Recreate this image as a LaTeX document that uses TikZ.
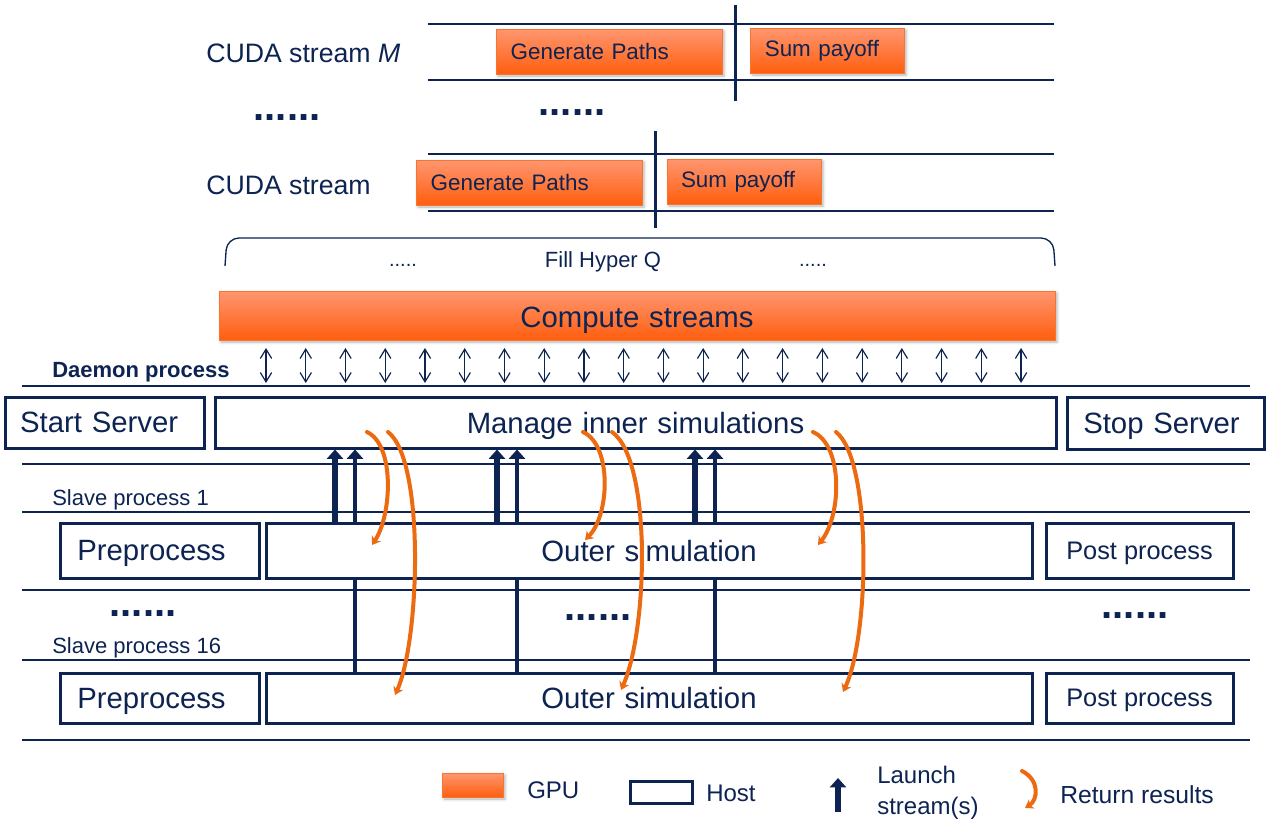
\documentclass[tikz,border=0pt]{standalone}
\usepackage{fontspec}
\setmainfont{Liberation Sans}
\usetikzlibrary{arrows.meta}
\usetikzlibrary{shadows.blur}

\definecolor{navy}{RGB}{13,35,82}
\definecolor{gpuTop}{RGB}{255,150,112}
\definecolor{gpuBot}{RGB}{255,94,14}
\definecolor{gpuLine}{RGB}{246,118,48}
\definecolor{retOrange}{RGB}{236,106,16}

\begin{document}
\begin{tikzpicture}[x=0.75pt,y=0.75pt,yscale=-1,xscale=1,
  every node/.style={text=navy},
  fsz/.style={font=\fontsize{#1}{#1}\selectfont},
  sz/.style 2 args={minimum width=#1*0.75pt,minimum height=#2*0.75pt},
  gpu/.style={draw=gpuLine,line width=0.75pt,top color=gpuTop,bottom color=gpuBot,inner sep=0pt,
    blur shadow={shadow xshift=1.5pt,shadow yshift=-1.5pt,shadow blur steps=4,shadow opacity=30}},
  host/.style={draw=navy,line width=2.25pt,fill=white,inner sep=0pt,text depth=0pt},
  rule/.style={draw=navy,line width=1.2pt},
  hq/.style={draw=navy,line width=0.9pt,{Straight Barb[length=7pt,width=8.5pt]}-{Straight Barb[length=7pt,width=8.5pt]}},
  launch/.style={draw=navy,line width=#1,-{Triangle[length=7pt,width=12pt]}},
  ret/.style={draw=retOrange,line width=3pt,line cap=round,-{Stealth[length=6pt,width=8pt]}},
  dots/.style={font=\fontsize{30}{30}\selectfont\bfseries,inner sep=0pt},
]
\useasboundingbox (0,0) rectangle (1266,825);

%Straight Lines: CUDA stream M
\draw [rule] (428,24) -- (1054,24);
\draw [rule] (428,80) -- (1054,80);
\draw [rule,line width=2.25pt] (735,5) -- (735,101);
%Straight Lines: CUDA stream
\draw [rule] (428,154) -- (1054,154);
\draw [rule] (428,211) -- (1054,211);
\draw [rule,line width=2.25pt] (655,131) -- (655,228);

%Shape: GPU kernels
\draw (609,51.5) node (genM) [gpu,sz={226}{45},align=left,text width=147.5pt,inner xsep=11pt,fsz=16.8] {Generate Paths};
\draw (827.5,50.5) node (sumM) [gpu,sz={153}{45},align=left,text width=94pt,inner xsep=10.5pt,fsz=16.8] {Sum payoff};
\draw (529,182.5) node (gen1) [gpu,sz={226}{45},align=left,text width=147.5pt,inner xsep=11pt,fsz=16.8] {Generate Paths};
\draw (744,181.5) node (sum1) [gpu,sz={154}{45},align=left,text width=94.5pt,inner xsep=10.5pt,fsz=16.8] {Sum payoff};

% Text Node
\draw (206,53) node (lblM) [anchor=west,inner sep=0pt,fsz=20] {CUDA stream \textit{M}};
% Text Node
\draw (206,185) node (lbl1) [anchor=west,inner sep=0pt,fsz=20] {CUDA stream};
% Text Node
\draw (287,118) node (dotsA) [dots] {......};
\draw (572,113) node (dotsB) [dots] {......};

%Curve Lines: Hyper Q brace
\draw [navy,line width=1pt,rounded corners=9] (225,266) -- (227,238) -- (1053,238) -- (1055,266);
% Text Node
\draw (603,262) node (fill) [fsz=16.5] {Fill Hyper Q};
\draw (403,265) node (dotsC) [fsz=15] {.....};
\draw (813,265) node (dotsD) [fsz=15] {.....};

%Shape: Compute streams
\draw (637,315.5) node (cs) [gpu,sz={836}{49},fsz=22,text depth=0pt] {\raisebox{-2pt}{Compute\,\,streams}};

%Straight Lines: Hyper Q connections
\foreach \i in {0,...,19}
  \draw [hq] (266+39.74*\i,348) -- (266+39.74*\i,383);

% Text Node
\draw (52,372) node (daemon) [anchor=west,inner sep=0pt,font=\fontsize{16.5}{16.5}\selectfont\bfseries] {Daemon process};

%Straight Lines: process rules
\foreach \y in {386,464,512,590,660,740}
  \draw [rule] (22,\y) -- (1250,\y);

%Shape: Daemon process
\draw (104.5,422.5) node (start) [host,sz={199}{51},fsz=22] {Start\,\,Server\hspace*{8pt}};
\draw (635.5,422.5) node (manage) [host,sz={841}{51},fsz=22] {Manage\,\,inner\,\,simulations};
\draw (1165.5,423) node (stop) [host,sz={197}{52},fsz=22] {Stop\,\,Server\hspace*{6pt}};

% Text Node
\draw (52,500) node (slave1) [anchor=west,inner sep=0pt,fsz=16.5] {Slave process 1};
\draw (52,648) node (slave16) [anchor=west,inner sep=0pt,fsz=16.5] {Slave process 16};

%Shape: Slave process 1
\draw (159.5,550.5) node (pre1) [host,sz={199}{55},fsz=22] {Preprocess\hspace*{12pt}};
\draw (649,550.5) node (out1) [host,sz={766}{55},fsz=22] {Outer\,\,simulation};
\draw (1139.5,550.5) node (post1) [host,sz={187}{55},fsz=19] {Post process};

% Text Node
\draw (143,614) node (dotsE) [dots] {......};
\draw (598,618) node (dotsF) [dots] {......};
\draw (1135,616) node (dotsG) [dots] {......};

%Shape: Slave process 16
\draw (159.5,698) node (pre16) [host,sz={199}{50},fsz=22] {Preprocess\hspace*{12pt}};
\draw (649,698) node (out16) [host,sz={766}{50},fsz=22] {Outer\,\,simulation};
\draw (1139.5,698) node (post16) [host,sz={187}{50},fsz=19] {Post process};

%Straight Lines: launch streams
\foreach \a/\b in {335/355,497/517,695/715} {
  \draw [launch=5pt] (\a,0 |- out1.north) -- (\a,0 |- manage.south);
  \draw [launch=3.5pt] (\b,0 |- out1.north) -- (\b,0 |- manage.south);
  \draw [navy,line width=3pt] (\b,0 |- out16.north) -- (\b,0 |- out1.south);
}

%Curve Lines: return results
\draw [ret] (367,432) .. controls (395,445) and (392,515) .. (372,545);
\draw [ret] (388,432) .. controls (425,460) and (420,640) .. (395,695);
\draw [ret] (583,432) .. controls (612,445) and (610,515) .. (585,540);
\draw [ret] (612,432) .. controls (652,460) and (648,630) .. (621,690);
\draw [ret] (813,432) .. controls (843,445) and (842,515) .. (818,545);
\draw [ret] (836,432) .. controls (872,460) and (870,635) .. (843,692);

%Legend
\draw (472.5,785) node (lgGpu) [gpu,sz={61}{24}] {};
\draw (527,790) node (lgGpuT) [anchor=west,inner sep=0pt,fsz=18] {GPU};
\draw (661,792) node (lgHost) [host,sz={62}{22}] {};
\draw (706,793) node (lgHostT) [anchor=west,inner sep=0pt,fsz=18] {Host};
\coordinate (lgLa) at (838,812);
\coordinate (lgLb) at (838,778);
\draw [launch=5pt] (lgLa) -- (lgLb);
\draw (877,793) node (lgLaunch) [anchor=west,inner sep=0pt,align=left,font=\fontsize{18}{23}\selectfont] {Launch\\stream(s)};
\coordinate (lgRa) at (1022,771);
\coordinate (lgRb) at (1025,808);
\draw [ret] (lgRa) .. controls (1040,780) and (1038,800) .. (lgRb);
\draw (1060,795) node (lgRet) [anchor=west,inner sep=0pt,fsz=18.5] {Return results};

\end{tikzpicture}
\end{document}
